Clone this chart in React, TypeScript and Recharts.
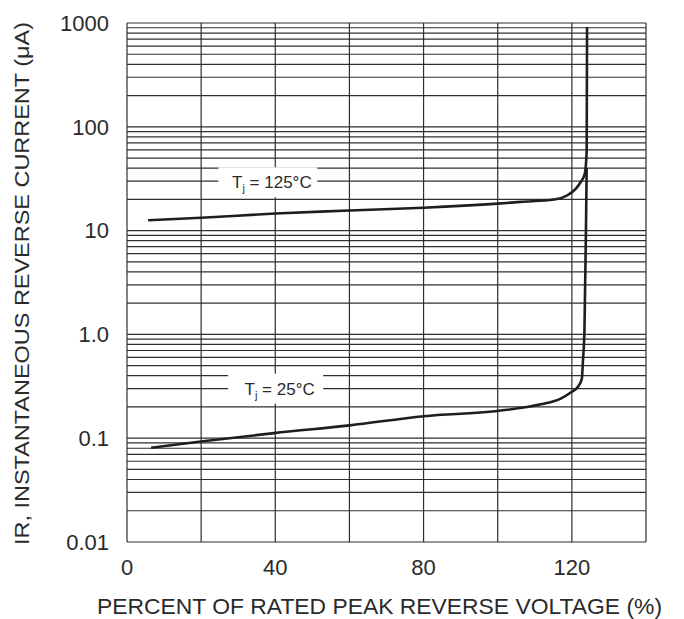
import { LineChart, Line, XAxis, YAxis, CartesianGrid, ReferenceDot } from "recharts";

// percent of rated peak reverse voltage vs reverse current (µA)
const tj125Pct = [5.7, 20, 40, 60, 80, 100, 106.2, 115.2, 118.8, 121.1, 122.4, 123.5, 124.0, 124.1];
const tj125Ua = [12.6, 13.3, 14.6, 15.6, 16.6, 18.2, 18.9, 19.9, 21.9, 25.4, 29.4, 35.4, 59, 914];

const tj25Pct = [6.5, 20.5, 39.7, 60.1, 80.1, 99.9, 111.6, 117.0, 119.9, 121.6, 122.7, 123.0, 123.4, 123.8, 124.0];
const tj25Ua = [0.081, 0.0933, 0.112, 0.133, 0.163, 0.183, 0.212, 0.241, 0.279, 0.311, 0.375, 0.564, 1.1, 10, 40];

const xGrid = [0, 20, 40, 60, 80, 100, 120, 140];
const xLabels: Record<number, string> = { 0: "0", 40: "40", 80: "80", 120: "120" };

const decades = [0.01, 0.1, 1, 10, 100];
const yGrid = [...decades.flatMap((d) => [1, 2, 3, 4, 5, 6, 7, 8, 9].map((m) => +(d * m).toPrecision(3))), 1000];
const yLabels: Record<string, string> = {
  "0.01": "0.01",
  "0.1": "0.1",
  "1": "1.0",
  "10": "10",
  "100": "100",
  "1000": "1000"
};

const curveLabels = [
  { x: 38, y: 29.2, temp: "125°C", w: 99 },
  { x: 40.1, y: 0.3, temp: "25°C", w: 95 }
];

const tj125 = tj125Pct.map((x, i) => ({ x, y: tj125Ua[i] }));
const tj25 = tj25Pct.map((x, i) => ({ x, y: tj25Ua[i] }));

const font = "'Liberation Sans', Arial, sans-serif";
const ink = "#1e1e1e";
const textInk = "#2a2a2a";
const gridInk = "#2e2e2e";

function TempLabel({ cx, cy, temp, w }: { cx?: number; cy?: number; temp: string; w: number }) {
  if (cx === undefined || cy === undefined) return null;
  return (
    <g>
      <rect x={cx - w / 2} y={cy - 15} width={w} height={30} fill="#fff" />
      <text x={cx + 4} y={cy + 6} textAnchor="middle" fontFamily={font} fontSize={17} fill={textInk}>
        <tspan>T</tspan>
        <tspan dy={4} fontSize={11}>j</tspan>
        <tspan dy={-4}> = {temp}</tspan>
      </text>
    </g>
  );
}

export default function App() {
  return (
    <div style={{ position: "absolute", left: 0, top: 0, width: 684, height: 619, background: "#fff" }}>
      <LineChart width={684} height={619} margin={{ top: 23, right: 38, bottom: 0, left: 0 }}>
        <CartesianGrid stroke={gridInk} strokeWidth={1.2} />
        <XAxis
          type="number"
          dataKey="x"
          domain={[0, 140]}
          ticks={xGrid}
          tickFormatter={(v: number) => xLabels[v] ?? ""}
          axisLine={false}
          tickLine={false}
          tickMargin={11}
          height={77}
          tick={{ fill: textInk, fontSize: 22, fontFamily: font }}
          label={{
            content: (props: any) => {
              const vb = props.viewBox;
              return (
                <text
                  x={vb.x + vb.width / 2 - 7}
                  y={614}
                  textAnchor="middle"
                  fontFamily={font}
                  fontSize={22}
                  fill={textInk}
                  textLength={565}
                  lengthAdjust="spacingAndGlyphs"
                >
                  PERCENT OF RATED PEAK REVERSE VOLTAGE (%)
                </text>
              );
            }
          }}
        />
        <YAxis
          type="number"
          dataKey="y"
          scale="log"
          domain={[0.01, 1000]}
          ticks={yGrid}
          tickFormatter={(v: number) => yLabels[String(v)] ?? ""}
          axisLine={false}
          tickLine={false}
          tickMargin={12}
          width={127}
          interval={0}
          tick={{ fill: textInk, fontSize: 22, fontFamily: font }}
          label={{
            content: (props: any) => {
              const vb = props.viewBox;
              const cy = vb.y + vb.height / 2 + 1;
              return (
                <text
                  x={29}
                  y={cy}
                  transform={`rotate(-90 29 ${cy})`}
                  textAnchor="middle"
                  fontFamily={font}
                  fontSize={21}
                  fill={textInk}
                  textLength={523}
                  lengthAdjust="spacingAndGlyphs"
                >
                  IR, INSTANTANEOUS REVERSE CURRENT (μA)
                </text>
              );
            }
          }}
        />
        {curveLabels.map((l) => (
          <ReferenceDot
            key={l.temp}
            x={l.x}
            y={l.y}
            r={0}
            shape={(p: any) => <TempLabel cx={p.cx} cy={p.cy} temp={l.temp} w={l.w} />}
          />
        ))}
        <Line
          data={tj125}
          dataKey="y"
          type="monotone"
          stroke={ink}
          strokeWidth={2.6}
          dot={false}
          isAnimationActive={false}
        />
        <Line
          data={tj25}
          dataKey="y"
          type="monotone"
          stroke={ink}
          strokeWidth={2.6}
          dot={false}
          isAnimationActive={false}
        />
      </LineChart>
    </div>
  );
}
